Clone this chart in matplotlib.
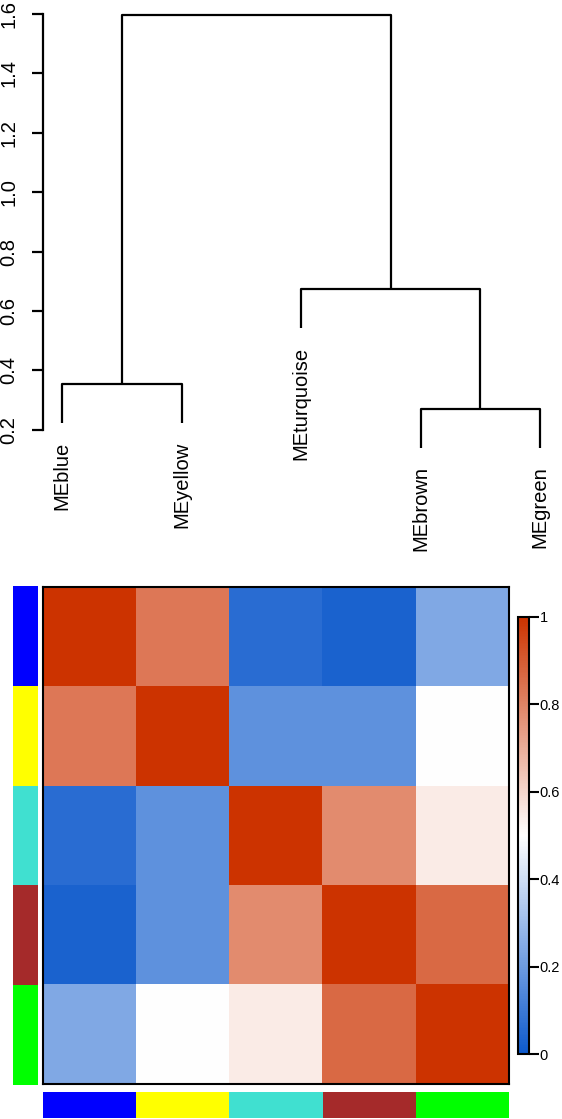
import numpy as np
import matplotlib
matplotlib.use('Agg')
import matplotlib.pyplot as plt
from matplotlib.colors import LinearSegmentedColormap

plt.rcParams['font.family'] = ['Liberation Sans', 'DejaVu Sans']

modules = ['blue', 'yellow', 'turquoise', 'brown', 'green']
leaf_labels = ['ME' + m for m in modules]
module_colors = ['#0000FF', '#FFFF00', '#40E0D0', '#A52A2A', '#00FF00']

# eigengene adjacency shown in the heatmap (same order as modules)
adjacency = np.array([
    [1.00, 0.83, 0.06, 0.03, 0.24],
    [0.83, 1.00, 0.17, 0.17, 0.50],
    [0.06, 0.17, 1.00, 0.785, 0.55],
    [0.03, 0.17, 0.785, 1.00, 0.865],
    [0.24, 0.50, 0.55, 0.865, 1.00],
])

# dendrogram: negative = leaf (1-based position), positive = earlier merge
merge = [(-4, -5), (-1, -2), (-3, 1), (2, 3)]
merge_height = [0.270, 0.354, 0.674, 1.595]

yticks = [0.2, 0.4, 0.6, 0.8, 1.0, 1.2, 1.4, 1.6]
cbar_ticks = [0, 0.2, 0.4, 0.6, 0.8, 1]

W, H = 562, 1119
fig = plt.figure(figsize=(W / 100, H / 100), dpi=100)


def px_axes(x0, y0, x1, y1):
    # pixel box (top-left origin) -> figure axes
    return fig.add_axes([x0 / W, 1 - y1 / H, (x1 - x0) / W, (y1 - y0) / H])


# ---- dendrogram ----
ax = px_axes(43, 14, 562, 14 + 1.6 * 297)
ax.set_xlim(1 - 19 / 119.5, 1 + 500 / 119.5)
ax.set_ylim(0, 1.6)
hang = 0.1 * (max(merge_height) - min(merge_height))
xpos = {}
for k, ((a, b), h) in enumerate(zip(merge, merge_height), start=1):
    pts = []
    for node in (a, b):
        if node < 0:
            x, y = -node, h - hang
            ax.annotate(leaf_labels[-node - 1], (x, y), xytext=(0, -13),
                        textcoords='offset points', rotation=90,
                        ha='center', va='top', fontsize=14.5,
                        annotation_clip=False)
        else:
            x, y = xpos[node], merge_height[node - 1]
        pts.append((x, y))
    (xa, ya), (xb, yb) = pts
    ax.plot([xa, xa, xb, xb], [ya, h, h, yb], color='black', lw=1.6,
            clip_on=False, solid_capstyle='butt')
    xpos[k] = (xa + xb) / 2

for s in ['top', 'right', 'bottom']:
    ax.spines[s].set_visible(False)
ax.spines['left'].set_bounds(0.2, 1.6)
ax.spines['left'].set_linewidth(1.6)
ax.set_xticks([])
ax.set_yticks(yticks)
ax.set_yticklabels([f'{v:.1f}' for v in yticks], rotation=90, va='center',
                   fontsize=14.5)
ax.tick_params(axis='y', length=8, width=1.6, pad=10)

# ---- heatmap ----
cmap = LinearSegmentedColormap.from_list(
    'bwr', [(0.05, 0.35, 0.8), (1, 1, 1), (0.8, 0.2, 0.0)], N=256)
hax = px_axes(43, 587, 509, 1084)
im = hax.imshow(adjacency, cmap=cmap, vmin=0, vmax=1, aspect='auto',
                interpolation='nearest')
hax.set_xticks([])
hax.set_yticks([])
for s in hax.spines.values():
    s.set_linewidth(1.5)

# row colour bar
rax = px_axes(13, 586, 38, 1085)
rax.barh(range(len(modules)), 1, height=1, color=module_colors)
rax.set_ylim(len(modules) - 0.5, -0.5)
rax.set_xlim(0, 1)
rax.axis('off')

# column colour bar
bax = px_axes(43, 1092, 509, 1118)
bax.bar(range(len(modules)), 1, width=1, color=module_colors)
bax.set_xlim(-0.5, len(modules) - 0.5)
bax.set_ylim(0, 1)
bax.axis('off')

# colour scale
cax = px_axes(518, 617, 529, 1054)
cb = fig.colorbar(im, cax=cax, ticks=cbar_ticks)
cb.ax.set_yticklabels([f'{t:g}' for t in cbar_ticks])
cb.outline.set_linewidth(1.5)
cb.ax.tick_params(length=7, width=1.5, labelsize=10.5, pad=0.5)

fig.savefig('out.png', dpi=100)
